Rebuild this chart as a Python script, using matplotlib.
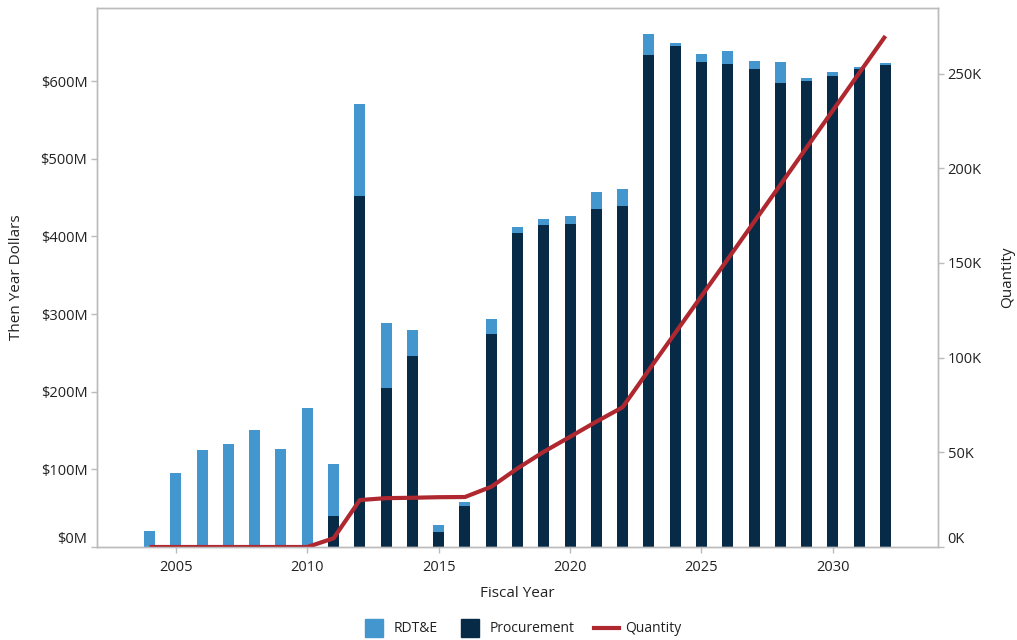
import matplotlib.pyplot as plt
from matplotlib.lines import Line2D
from matplotlib.ticker import FuncFormatter

plt.rcParams['font.family'] = ['Open Sans', 'DejaVu Sans']

# Fiscal years and funding (millions of then-year dollars)
years = list(range(2004, 2033))
procurement = [0, 0, 0, 0, 0, 0, 0, 40, 452, 205, 246, 19, 53, 274, 404, 414, 416,
               435, 439, 634, 645, 625, 622, 616, 598, 600, 607, 615, 620]
rdte = [21, 95, 125, 133, 151, 126, 179, 67, 119, 83, 33, 9, 5, 19, 8, 8, 10,
        22, 22, 26, 4, 10, 17, 10, 27, 4, 4, 3, 3]
# Quantity (thousands)
quantity = [0, 0, 0, 0, 0, 0, 0, 4.6, 24.8, 25.8, 26.0, 26.3, 26.4, 31.8, 41.5, 50.3,
            58.2, 66.2, 73.8, 93.5, 113, 132.5, 152, 171.6, 191.2, 210.9, 230.5, 250.2, 269.8]

c_rdte = '#4396CE'
c_proc = '#072A47'
c_qty = '#B0282F'
grid_c = '#BBBBBB'
txt_c = '#222222'

fig = plt.figure(figsize=(10.17, 6.4), dpi=100)
ax = fig.add_axes([0.0954, 0.1453, 0.8269, 0.8422])
ax2 = ax.twinx()

ax.bar(years, procurement, width=0.42, color=c_proc, zorder=2)
ax.bar(years, rdte, width=0.42, bottom=procurement, color=c_rdte, zorder=2)
ax2.plot(years, [q * 1000 for q in quantity], color=c_qty, lw=3, solid_capstyle='butt', zorder=1)

ax.set_xlim(2002, 2034)
ax.set_ylim(0, 694)
ax2.set_ylim(0, 284600)

ax.set_xticks([2005, 2010, 2015, 2020, 2025, 2030])
ax.set_yticks(range(0, 700, 100))
ax.yaxis.set_major_formatter(FuncFormatter(lambda v, p: f'${int(v)}M'))
ax2.set_yticks(range(0, 260000, 50000))
ax2.yaxis.set_major_formatter(FuncFormatter(lambda v, p: f'{int(v / 1000)}K'))

for a in (ax, ax2):
    for s in a.spines.values():
        s.set_color(grid_c)
        s.set_linewidth(1)
        s.set_zorder(5)
    a.tick_params(colors=grid_c, labelcolor=txt_c, labelsize=10.5, length=4, width=1)

ax.tick_params(axis='x', pad=5)
ax.tick_params(axis='y', pad=3)
ax2.tick_params(axis='y', pad=3)

fig.canvas.draw()
ax.get_yticklabels()[0].set_va('bottom')
ax2.get_yticklabels()[0].set_va('bottom')

ax.set_xlabel('Fiscal Year', fontsize=11, color=txt_c, labelpad=8)
ax.set_ylabel('Then Year Dollars', fontsize=11, color=txt_c, labelpad=12)
ax2.set_ylabel('Quantity', fontsize=11, color=txt_c, labelpad=13)

handles = [Line2D([0], [0], ls='none', marker='s', ms=13, color=c_rdte, label='RDT&E'),
           Line2D([0], [0], ls='none', marker='s', ms=13, color=c_proc, label='Procurement'),
           Line2D([0], [0], color=c_qty, lw=3, label='Quantity')]
fig.legend(handles=handles, loc='lower center', ncol=3, frameon=False,
           bbox_to_anchor=(0.513, -0.014), fontsize=10, handlelength=1.8,
           handletextpad=0.5, columnspacing=1.4, labelcolor=txt_c)

fig.savefig('out.png', dpi=100)
